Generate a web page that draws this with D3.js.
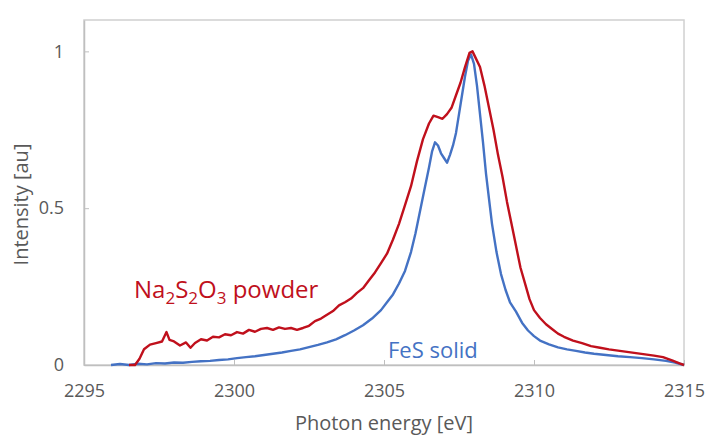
<!DOCTYPE html>
<html><head><meta charset="utf-8">
<script src="https://cdn.jsdelivr.net/npm/d3@7"></script>
<style>body{margin:0;background:#fff;} svg{display:block;}</style>
</head><body>
<svg id="c" width="708" height="436"></svg>
<script>
const xTicks = [2295, 2300, 2305, 2310, 2315];
const yTicks = [0, 0.5, 1];
const yTickLabels = ["0", "0.5", "1"];

const naEnergy = [2296.5,2296.7,2296.85,2297.0,2297.2,2297.4,2297.6,2297.75,2297.85,2298.0,2298.2,2298.4,2298.55,2298.7,2298.9,2299.1,2299.3,2299.5,2299.7,2299.9,2300.1,2300.3,2300.5,2300.7,2300.9,2301.1,2301.3,2301.5,2301.7,2301.9,2302.1,2302.3,2302.5,2302.7,2302.9,2303.1,2303.3,2303.5,2303.7,2303.9,2304.1,2304.3,2304.5,2304.7,2304.9,2305.1,2305.3,2305.5,2305.7,2305.9,2306.1,2306.3,2306.5,2306.65,2306.8,2306.95,2307.1,2307.25,2307.4,2307.55,2307.7,2307.85,2307.95,2308.05,2308.2,2308.35,2308.5,2308.65,2308.8,2308.95,2309.1,2309.25,2309.4,2309.55,2309.7,2309.85,2310.0,2310.2,2310.4,2310.6,2310.8,2311.0,2311.3,2311.6,2311.9,2312.2,2312.5,2312.8,2313.1,2313.4,2313.7,2314.0,2314.3,2314.6,2314.85,2315.0];
const naIntensity = [0.0,0.0,0.02,0.05,0.065,0.07,0.075,0.105,0.08,0.075,0.062,0.072,0.055,0.07,0.082,0.078,0.09,0.088,0.098,0.095,0.105,0.1,0.112,0.106,0.115,0.118,0.112,0.12,0.115,0.118,0.112,0.118,0.125,0.14,0.148,0.16,0.172,0.19,0.2,0.212,0.23,0.245,0.27,0.295,0.325,0.355,0.4,0.45,0.51,0.57,0.65,0.72,0.77,0.795,0.79,0.785,0.8,0.82,0.86,0.9,0.95,0.995,1.0,0.98,0.95,0.89,0.82,0.75,0.67,0.6,0.52,0.45,0.38,0.31,0.26,0.21,0.175,0.15,0.13,0.115,0.1,0.09,0.078,0.07,0.06,0.055,0.05,0.046,0.042,0.038,0.034,0.03,0.025,0.015,0.005,0.0];

const fesEnergy = [2295.9,2296.2,2296.5,2296.8,2297.1,2297.4,2297.7,2298.0,2298.3,2298.6,2298.9,2299.2,2299.5,2299.8,2300.1,2300.4,2300.7,2301.0,2301.3,2301.6,2301.9,2302.2,2302.5,2302.8,2303.1,2303.4,2303.7,2304.0,2304.3,2304.6,2304.9,2305.1,2305.3,2305.5,2305.7,2305.9,2306.05,2306.2,2306.35,2306.5,2306.6,2306.7,2306.8,2306.9,2307.0,2307.1,2307.2,2307.3,2307.4,2307.5,2307.6,2307.7,2307.8,2307.9,2308.0,2308.1,2308.2,2308.3,2308.4,2308.5,2308.6,2308.75,2308.9,2309.05,2309.2,2309.4,2309.6,2309.8,2310.0,2310.2,2310.5,2310.8,2311.1,2311.4,2311.7,2312.0,2312.4,2312.8,2313.2,2313.6,2314.0,2314.4,2314.7,2315.0];
const fesIntensity = [0.0,0.003,0.0,0.004,0.002,0.006,0.005,0.008,0.007,0.01,0.012,0.013,0.016,0.018,0.022,0.025,0.028,0.032,0.036,0.04,0.045,0.05,0.057,0.064,0.072,0.082,0.095,0.11,0.127,0.148,0.175,0.2,0.225,0.26,0.3,0.36,0.42,0.49,0.56,0.63,0.68,0.71,0.7,0.675,0.66,0.645,0.67,0.7,0.74,0.8,0.86,0.92,0.97,0.99,0.96,0.89,0.8,0.71,0.61,0.53,0.45,0.36,0.29,0.24,0.2,0.17,0.135,0.11,0.092,0.078,0.066,0.056,0.05,0.045,0.04,0.036,0.032,0.028,0.025,0.022,0.018,0.013,0.008,0.0];

const svg = d3.select("#c");
const mL = 84, mR = 684, mT = 20, mB = 365;
const x = d3.scaleLinear().domain([2295, 2315]).range([mL, mR]);
const y = d3.scaleLinear().domain([0, 1.1]).range([mB, mT]);
const font = "'Open Sans', sans-serif";
const gray = "#595959";

// frame
svg.append("rect").attr("x", mL).attr("y", mT).attr("width", mR-mL).attr("height", mB-mT)
  .attr("fill", "none").attr("stroke", "#d0d0d0").attr("stroke-width", 1.5);

const xAxis = d3.axisBottom(x).tickValues(xTicks).tickSizeInner(-5).tickSizeOuter(0).tickPadding(19).tickFormat(d3.format("d"));
const gx = svg.append("g").attr("transform", `translate(0,${mB})`).call(xAxis);
gx.select(".domain").attr("stroke", "#bfbfbf").attr("stroke-width", 1.5);
gx.selectAll(".tick line").attr("stroke", "#bfbfbf");
gx.selectAll("text").attr("fill", gray).style("font-family", font).style("font-size", "18px");

const yAxis = d3.axisLeft(y).tickValues(yTicks).tickSizeInner(-5).tickSizeOuter(0).tickPadding(20)
  .tickFormat((d,i) => yTickLabels[i]);
const gy = svg.append("g").attr("transform", `translate(${mL},0)`).call(yAxis);
gy.select(".domain").attr("stroke", "#bfbfbf").attr("stroke-width", 1.5);
gy.selectAll(".tick line").attr("stroke", "#bfbfbf");
gy.selectAll("text").attr("fill", gray).style("font-family", font).style("font-size", "18px");

const line = d3.line().x(d => x(d[0])).y(d => y(d[1]));
const fes = fesEnergy.map((e,i) => [e, fesIntensity[i]]);
const na = naEnergy.map((e,i) => [e, naIntensity[i]]);

svg.append("path").datum(fes).attr("d", line).attr("fill", "none")
  .attr("stroke", "#4472C4").attr("stroke-width", 2.4).attr("stroke-linejoin", "round");
svg.append("path").datum(na).attr("d", line).attr("fill", "none")
  .attr("stroke", "#C0101C").attr("stroke-width", 2.4).attr("stroke-linejoin", "round");

// axis titles
svg.append("text").attr("x", (mL+mR)/2).attr("y", 430).attr("text-anchor", "middle")
  .attr("fill", gray).style("font-family", font).style("font-size", "20px").text("Photon energy [eV]");
svg.append("text").attr("transform", `translate(28,${(mT+mB)/2+12}) rotate(-90)`).attr("text-anchor", "middle")
  .attr("fill", gray).style("font-family", font).style("font-size", "20px").text("Intensity [au]");

// series labels
const naLab = svg.append("text").attr("x", 134).attr("y", 298).attr("fill", "#C0101C")
  .style("font-family", font).style("font-size", "24px");
naLab.append("tspan").text("Na");
naLab.append("tspan").attr("dy", 6).style("font-size", "17px").text("2");
naLab.append("tspan").attr("dy", -6).text("S");
naLab.append("tspan").attr("dy", 6).style("font-size", "17px").text("2");
naLab.append("tspan").attr("dy", -6).text("O");
naLab.append("tspan").attr("dy", 6).style("font-size", "17px").text("3");
naLab.append("tspan").attr("dy", -6).text(" powder");

svg.append("text").attr("x", 388).attr("y", 358).attr("fill", "#4472C4")
  .style("font-family", font).style("font-size", "22px").text("FeS solid");
</script>
</body></html>
